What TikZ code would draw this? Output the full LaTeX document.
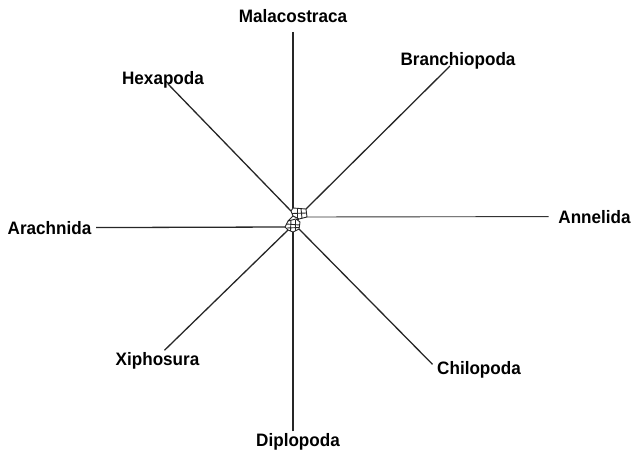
\documentclass[tikz,border=0pt]{standalone}
\usepackage{fontspec}
\setmainfont{Liberation Sans}[FakeStretch=0.95]
\begin{document}
\begin{tikzpicture}[x=1pt,y=-1pt,
  lab/.style={font=\fontsize{18}{20}\selectfont\bfseries, inner sep=1.5pt, anchor=base},
  edge/.style={line width=1.3pt, black!85},
  thinedge/.style={line width=0.9pt, black!80},
  net/.style={line width=0.9pt, black!85, line join=round}]
\useasboundingbox (0,0) rectangle (631,452);
% labels (positioned at their baselines)
\node[lab] (mal) at (293,23) {Malacostraca};
\node[lab] (bra) at (458,66) {Branchiopoda};
\node[lab] (hex) at (163,84) {Hexapoda};
\node[lab] (ara) at (49.5,234) {Arachnida};
\node[lab] (ann) at (594.5,223) {Annelida};
\node[lab] (xip) at (157.5,365) {Xiphosura};
\node[lab] (chi) at (479,374) {Chilopoda};
\node[lab] (dip) at (298,446) {Diplopoda};
% network hub coordinates
\coordinate (u1) at (291,211);
\coordinate (u2) at (293,208);
\coordinate (u3) at (306,209);
\coordinate (u4) at (307,217);
\coordinate (u5) at (299,219);
\coordinate (u6) at (293,216);
\coordinate (l1) at (296,219);
\coordinate (l2) at (300,222);
\coordinate (l3) at (299,229);
\coordinate (l4) at (293,232);
\coordinate (l5) at (288,230);
\coordinate (l6) at (285,227);
\coordinate (l7) at (288,221);
% hub
\draw[net] (u1) -- (u2) -- (u3) -- (u4) -- (u5) -- (u6) -- cycle;
\draw[net] (292,213.5) -- (306.5,213);
\draw[net] (297,208.5) -- (297,218);
\draw[net] (301,208.5) -- (302,218.5);
\draw[net] (u6) -- (l7);
\draw[net] (l1) -- (u5);
\draw[net] (l7) -- (l1) -- (l2) -- (l3) -- (l4) -- (l5) -- (l6) -- cycle;
\draw[net] (286,224) -- (300,225);
\draw[net] (291,220) -- (290.5,231);
\draw[net] (295,219.5) -- (295,231);
\draw[net] (287,228) -- (299.5,227.5);
% edges
\draw[edge] ([yshift=-7pt]mal.south) -- (u2);
\draw[edge] ([xshift=5pt]hex.base) -- (u1);
\draw[edge] ([xshift=-8pt]bra.base) -- (u3);
\draw[thinedge] ([xshift=-8pt]ann.west) -- (u4);
\draw[edge] ([xshift=3pt]ara.east) -- (l6);
\draw[edge] ([xshift=7pt]xip.north) -- (l5);
\draw[edge] ([xshift=-3pt,yshift=5pt]chi.west) -- (l3);
\draw[edge] ([xshift=-5pt]dip.north) -- (l4);
\end{tikzpicture}
\end{document}
